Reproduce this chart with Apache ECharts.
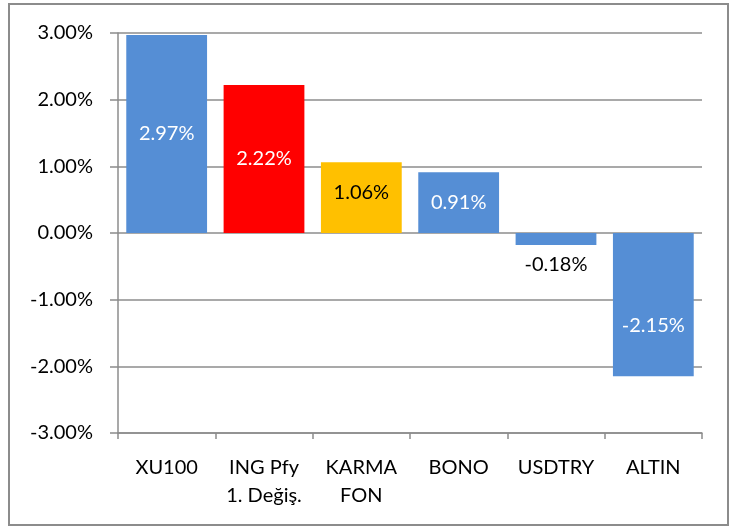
<!DOCTYPE html>
<html>
<head>
<meta charset="utf-8">
<script src="https://cdn.jsdelivr.net/npm/echarts@6/dist/echarts.min.js"></script>
<style>
  html, body { margin: 0; padding: 0; background: #fff; }
  #chart { width: 749px; height: 531px; }
</style>
</head>
<body>
<div id="chart"></div>
<script>
const categories = ['XU100', 'ING Pfy\n1. Değiş.', 'KARMA\nFON', 'BONO', 'USDTRY', 'ALTIN'];
const returns = [2.97, 2.22, 1.06, 0.91, -0.18, -2.15];
const barColors = ['#558ED5', '#FF0000', '#FFC000', '#558ED5', '#558ED5', '#558ED5'];
const labelColors = ['#fff', '#fff', '#000', '#fff', '#000', '#fff'];
const labelPositions = ['inside', 'inside', 'inside', 'inside', 'bottom', 'inside'];
const labelOffsets = [[0, 0], [0, 0], [0, -5], [0, 0], [0, 0], [0, 21]];

const font = 'Lato, "Open Sans", sans-serif';
const gray = '#8c8c8c';

let chart = echarts.init(document.getElementById('chart'));

chart.setOption({
  animation: false,
  textStyle: { fontFamily: font },
  graphic: [
    {
      type: 'rect',
      shape: { x: 9, y: 4, width: 719, height: 521 },
      style: { fill: 'none', stroke: gray, lineWidth: 2 }
    }
  ],
  grid: {
    left: 118,
    right: 47,
    top: 33,
    bottom: 98
  },
  xAxis: {
    type: 'category',
    data: categories,
    axisLine: { onZero: false, lineStyle: { color: gray, width: 1.5 } },
    axisTick: { show: true, length: 6, lineStyle: { color: gray, width: 1.5 } },
    axisLabel: {
      color: '#000',
      fontSize: 20,
      fontFamily: font,
      margin: 21,
      lineHeight: 28,
      interval: 0
    }
  },
  yAxis: {
    type: 'value',
    min: -3,
    max: 3,
    interval: 1,
    axisLine: { show: true, lineStyle: { color: gray, width: 1.5 } },
    axisTick: { show: true, length: 8, lineStyle: { color: gray, width: 1.5 } },
    splitLine: { lineStyle: { color: gray, width: 1.5 } },
    axisLabel: {
      color: '#000',
      fontSize: 20,
      fontFamily: font,
      margin: 25,
      formatter: v => v.toFixed(2) + '%'
    }
  },
  series: [
    {
      type: 'bar',
      barCategoryGap: '17%',
      data: returns.map((v, i) => ({
        value: v,
        itemStyle: { color: barColors[i] },
        label: {
          show: true,
          position: labelPositions[i],
          offset: labelOffsets[i],
          color: labelColors[i],
          fontSize: 20,
          fontFamily: font,
          distance: 10,
          formatter: p => p.value.toFixed(2) + '%'
        }
      }))
    }
  ]
});
</script>
</body>
</html>
